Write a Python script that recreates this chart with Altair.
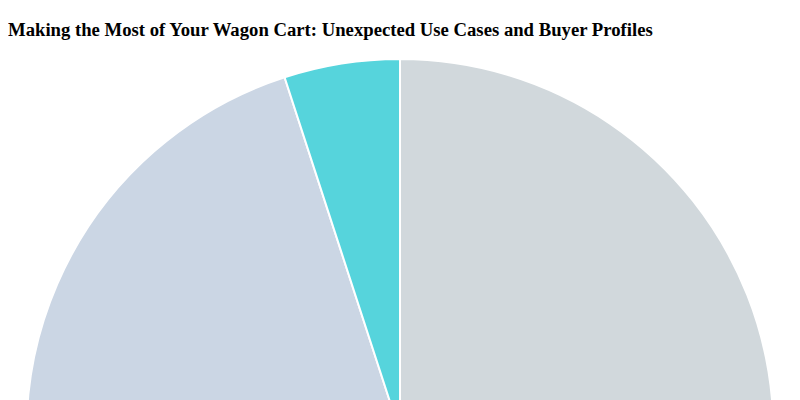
import altair as alt
import pandas as pd

categories = [
    "Gardening & Yard Work",
    "Beach & Camping Trips",
    "Sports Events & Tailgates",
    "Hauling Kids & Pets",
    "Farmers Market Shopping",
]
shares = [38, 15, 15, 27, 5]
order = [1, 2, 3, 4, 5]
colors = ["#d1d8dc", "#e2d6c8", "#d9cfe3", "#cbd6e4", "#56d4dc"]

df = pd.DataFrame({"category": categories, "share": shares, "order": order})

chart = (
    alt.Chart(df)
    .mark_arc(stroke="white", strokeWidth=2)
    .encode(
        theta=alt.Theta("share:Q", stack=True),
        color=alt.Color(
            "category:N",
            scale=alt.Scale(domain=categories, range=colors),
            legend=None,
        ),
        order=alt.Order("order:Q"),
        tooltip=["category:N", "share:Q"],
    )
    .properties(
        width=784,
        height=747,
        padding={"left": 0, "top": 13, "right": 0, "bottom": 0},
        title=alt.TitleParams(
            "Making the Most of Your Wagon Cart: Unexpected Use Cases and Buyer Profiles",
            anchor="start",
            font="Liberation Serif",
            fontSize=18.7,
            fontWeight="bold",
            color="black",
            offset=15,
        ),
    )
    .configure_view(stroke=None)
)

chart.save("out.html", embed_options={"renderer": "svg", "actions": False})
